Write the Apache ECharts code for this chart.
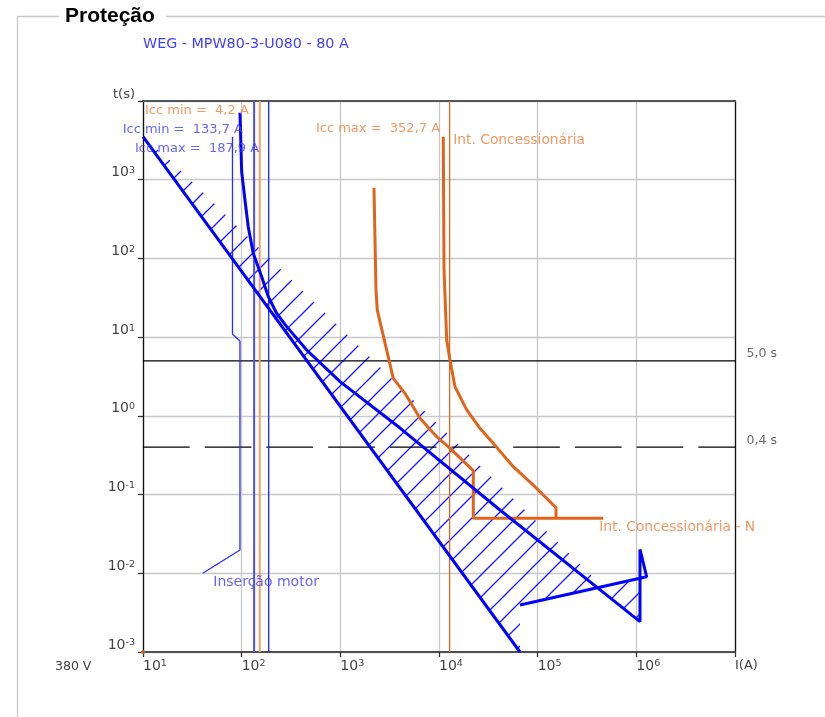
<!DOCTYPE html>
<html><head><meta charset="utf-8">
<script src="https://cdn.jsdelivr.net/npm/echarts@6/dist/echarts.min.js"></script>
<style>html,body{margin:0;padding:0;background:#fff;}#c{width:825px;height:717px;}</style>
</head><body><div id="c"></div>
<script>
// ---------- data ----------
const xTickExp = [1, 2, 3, 4, 5, 6, 7];
const yTickExp = [-3, -2, -1, 0, 1, 2, 3, 4];
const xAxisEndLabel = 'I(A)';
const yAxisEndLabel = 't(s)';
const voltageLabel = '380 V';
const chartTitle = 'Proteção';
const deviceTitle = 'WEG - MPW80-3-U080 - 80 A';

// breaker (MPW80) band: lower straight boundary
const breakerLow = [[10, 3517], [66200, 0.001]];
// breaker upper boundary (thermal curve + magnetic) and tail
const breakerHigh = [[96.1, 7100], [100, 1265], [108, 552], [116.6, 253], [131, 116], [159.6, 58.6],
  [186, 32.7], [226, 20.1], [286, 13.6], [456, 6.86], [993, 2.72], [4027, 0.70], [41500, 0.0637],
  [1089000, 0.00243], [1089000, 0.0201], [1273000, 0.00904], [66200, 0.00395]];
// hatched area outline
const hatchRegion = [[10, 3517], [19.2, 1730], [457000, 0.00676], [1089000, 0.00865],
  [1089000, 0.00243], [396000, 0.00656], [66200, 0.00395], [66200, 0.001]];
// motor inrush
const motorStart = [[80.7, 3518], [80.7, 10.96], [96.1, 8.93], [96.1, 0.0198], [40.3, 0.01]];
// utility breaker curves
const utilityPhase = [[11050, 3518], [11240, 71], [11970, 9.2], [12930, 5.1], [14520, 2.34],
  [19090, 1.19], [26030, 0.695], [38430, 0.398], [56620, 0.226], [90300, 0.132], [153400, 0.068], [153400, 0.05]];
const utilityNeutral = [[2193, 791], [2298, 39.7], [2369, 22.1], [3442, 3.0], [4522, 1.934], [6418, 0.931],
  [9475, 0.543], [12930, 0.387], [22260, 0.201], [22260, 0.05], [462400, 0.05]];
// short-circuit currents (A, referred to 380 V)
const iccMinBreaker = 133.7;
const iccMaxBreaker = 187.9;
const iccMinUtility = 152.5;
const iccMaxUtility = 12808;
// time references
const timeSolid = 5.0;
const timeDashed = 0.4;
// annotation texts: [I, t, text, colorKey, fontSize]
const annotations = [
  [10.48, 7540, 'Icc min =  4,2 A', 'o', 13],
  [6.22, 4365, 'Icc min =  133,7 A', 'b', 13],
  [8.3, 2507, 'Icc max =  187,9 A', 'b', 13],
  [566, 4408, 'Icc max =  352,7 A', 'o', 13],
  [13960, 3133, 'Int. Concessionária', 'o', 13.8],
  [421300, 0.0384, 'Int. Concessionária - N', 'o', 13.8],
  [51.6, 0.00759, 'Inserção motor', 'b', 14],
  [13100000, 6.1, '5,0 s', 'k', 12.5],
  [13100000, 0.479, '0,4 s', 'k', 12.5]
];
const originMark = [[10, 0.001]];

// ---------- style ----------
const FONT = 'DejaVu Sans';
const BLUE = '#0000ff';
const ORANGE = '#e0651b';
const TXT = {o: '#f0803c', b: '#4040ff', k: '#444'};

const hatchCanvas = document.createElement('canvas');
hatchCanvas.width = 22; hatchCanvas.height = 22;
(function () {
  const g = hatchCanvas.getContext('2d');
  g.strokeStyle = '#1a1aff'; g.lineWidth = 1.3;
  [0, 22, 44].forEach(c => { g.beginPath(); g.moveTo(c - 30, 30); g.lineTo(c + 30, -30); g.stroke(); });
})();

function expOf(v) { return Math.round(Math.log10(v)); }
const tickRich = {
  b: {fontFamily: FONT, fontSize: 14, color: '#444'},
  s: {fontFamily: FONT, fontSize: 9.5, color: '#444', verticalAlign: 'top'},
  t: {fontFamily: FONT, fontSize: 13, color: '#444'}
};
function lineSeries(data, color, width, extra) {
  return Object.assign({type: 'line', data: data, symbol: 'none', silent: true, animation: false,
    clip: false, z: 3, lineStyle: {color: color, width: width}}, extra || {});
}
function vline(v, color, width) { return lineSeries([[v, 0.001], [v, 10000]], color, width, {z: 2}); }
function hline(v, type) {
  return lineSeries([[10, v], [1e7, v]], '#000', 1.3, {z: 2, lineStyle: {color: '#000', width: 1.3, type: type}});
}

const chart = echarts.init(document.getElementById('c'));
chart.setOption({
  backgroundColor: '#fff',
  animation: false,
  grid: {left: 143, top: 101, width: 592, height: 551, containLabel: false},
  graphic: [
    {type: 'polyline', silent: true, shape: {points: [[59, 16.5], [17.5, 16.5], [17.5, 717]]}, style: {stroke: '#c8c8c8', lineWidth: 1.3, fill: null}},
    {type: 'line', silent: true, shape: {x1: 166, y1: 16.5, x2: 825, y2: 16.5}, style: {stroke: '#c8c8c8', lineWidth: 1.3}},
    {type: 'text', left: 65, top: 6, style: {text: chartTitle, font: 'bold 21px "Liberation Sans"', fill: '#000'}},
    {type: 'text', left: 143, top: 37, style: {text: deviceTitle, font: '14.3px "DejaVu Sans"', fill: '#4040ff'}},
    {type: 'text', left: 55, top: 660, style: {text: voltageLabel, font: '12.5px "DejaVu Sans"', fill: '#444'}}
  ],
  xAxis: [{
    type: 'log', logBase: 10, min: Math.pow(10, xTickExp[0]), max: Math.pow(10, xTickExp[xTickExp.length - 1]),
    axisLine: {show: true, lineStyle: {color: '#505050', width: 2}},
    axisTick: {show: true, length: 5, lineStyle: {color: '#333', width: 1.3}},
    minorTick: {show: false},
    splitLine: {show: true, lineStyle: {color: '#c8c8c8', width: 1.3}},
    axisLabel: {show: true, align: 'left', margin: 7, rich: tickRich,
      formatter: v => { const e = expOf(v); if (e === xTickExp[xTickExp.length - 1]) return '{t|' + xAxisEndLabel + '}'; return '{b|10}{s|' + e + '}'; }}
  }, {
    type: 'log', logBase: 10, position: 'top', min: 10, max: 1e7,
    axisLine: {show: true, lineStyle: {color: '#555', width: 2}}, axisTick: {show: false},
    axisLabel: {show: false}, splitLine: {show: false}
  }],
  yAxis: [{
    type: 'log', logBase: 10, min: Math.pow(10, yTickExp[0]), max: Math.pow(10, yTickExp[yTickExp.length - 1]),
    axisLine: {show: true, lineStyle: {color: '#111', width: 1.3}},
    axisTick: {show: true, length: 5, lineStyle: {color: '#333', width: 1.3}},
    splitLine: {show: true, lineStyle: {color: '#c8c8c8', width: 1.3}},
    axisLabel: {show: true, margin: 8, verticalAlign: 'bottom', rich: tickRich,
      formatter: v => { const e = expOf(v); if (e === yTickExp[yTickExp.length - 1]) return '{t|' + yAxisEndLabel + '}'; return '{b|10}{s|' + e + '}'; }}
  }, {
    type: 'log', logBase: 10, position: 'right', min: 0.001, max: 10000,
    axisLine: {show: true, lineStyle: {color: '#111', width: 1.3}}, axisTick: {show: false},
    axisLabel: {show: false}, splitLine: {show: false}
  }],
  series: [
    {type: 'custom', coordinateSystem: 'cartesian2d', silent: true, animation: false, z: 1,
      data: [hatchRegion[0]],
      renderItem: (params, api) => ({type: 'polygon', shape: {points: hatchRegion.map(p => api.coord(p))},
        style: {fill: {image: hatchCanvas, repeat: 'repeat'}, stroke: null}})},
    hline(timeSolid, 'solid'),
    hline(timeDashed, [46.7, 15]),
    vline(iccMinBreaker, '#4d4dff', 2),
    vline(iccMaxBreaker, '#2020ff', 1.3),
    vline(iccMinUtility, '#f0a070', 2),
    vline(iccMaxUtility, '#e0661a', 1.3),
    lineSeries(motorStart, '#2b2bff', 1.3),
    lineSeries(utilityPhase, ORANGE, 3),
    lineSeries(utilityNeutral, ORANGE, 3),
    lineSeries(breakerLow, BLUE, 3, {z: 4}),
    lineSeries(breakerHigh, BLUE, 3, {z: 4}),
    {type: 'scatter', data: originMark, symbolSize: 4, itemStyle: {color: ORANGE}, silent: true, animation: false, clip: false, z: 5},
    {type: 'scatter', silent: true, animation: false, clip: false, z: 6, symbolSize: 0,
      data: annotations.map(a => ({value: [a[0], a[1]], label: {show: true, position: 'right', distance: 0,
        formatter: a[2], color: TXT[a[3]], fontFamily: FONT, fontSize: a[4]}}))}
  ]
});
</script></body></html>
